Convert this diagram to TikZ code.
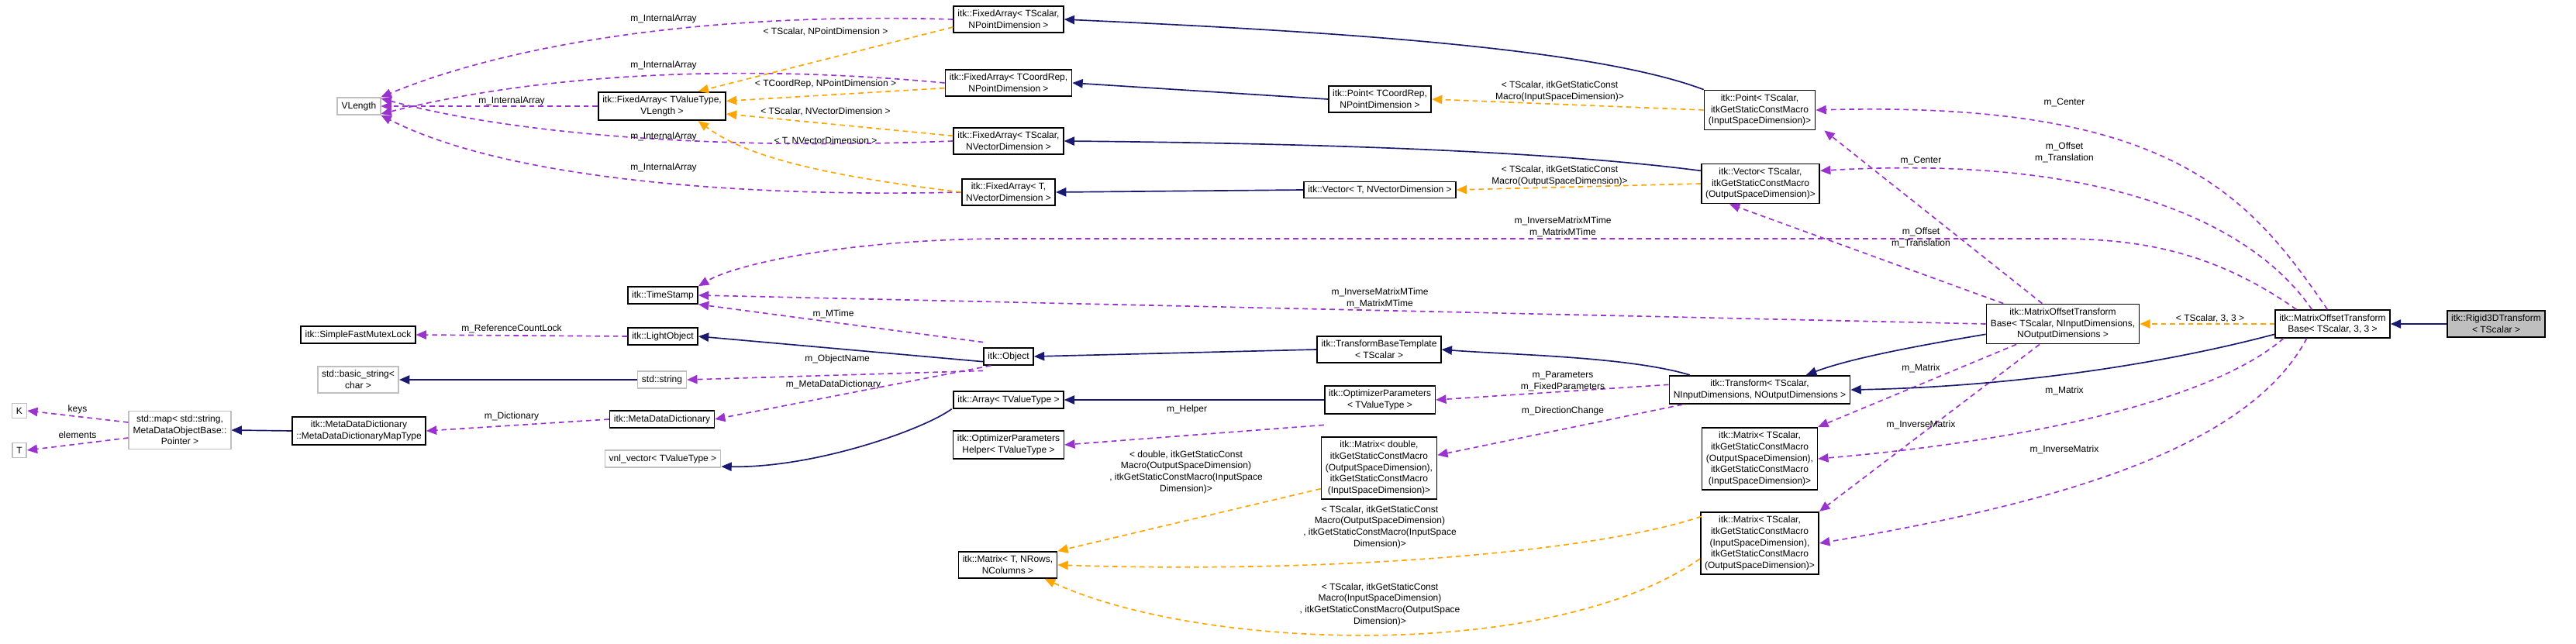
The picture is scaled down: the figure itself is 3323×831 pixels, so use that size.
\documentclass[tikz,border=0pt]{standalone}
\usepackage{fontspec}
\setmainfont{Liberation Sans}
\usetikzlibrary{arrows.meta}
\definecolor{inhblue}{RGB}{25,25,112}
\definecolor{usepurple}{RGB}{154,50,205}
\definecolor{tmplorange}{RGB}{255,165,0}
\definecolor{extgray}{RGB}{191,191,191}
\tikzset{
  cls/.style={draw=black, line width=0.5pt, fill=white, align=center, inner sep=1.6pt, font=\fontsize{3.6}{4.4}\selectfont},
  ext/.style={cls, draw=extgray},
  lbl/.style={align=center, inner sep=0pt, font=\fontsize{3.6}{4.4}\selectfont},
  inherit/.style={-{Triangle[length=4pt,width=3.4pt,fill=inhblue]}, draw=inhblue, line width=0.5pt},
  uses/.style={-{Triangle[length=4pt,width=3.4pt,fill=usepurple]}, draw=usepurple, dash pattern=on 2pt off 1.5pt, line width=0.5pt},
  tmpl/.style={-{Triangle[length=4pt,width=3.4pt,fill=tmplorange]}, draw=tmplorange, dash pattern=on 2pt off 1.5pt, line width=0.5pt}
}
\begin{document}
\begin{tikzpicture}[x=0.3pt, y=-0.3pt]
\useasboundingbox (0,0) rectangle (3323,831);

% classes
\node[ext] (vlen) at (463,137) {VLength};
\node[cls] (faTV) at (854,137) {itk::FixedArray\textless{} TValueType,\\VLength \textgreater};
\node[cls] (faP) at (1301,25) {itk::FixedArray\textless{} TScalar,\\NPointDimension \textgreater};
\node[cls] (faCR) at (1301,107) {itk::FixedArray\textless{} TCoordRep,\\NPointDimension \textgreater};
\node[cls] (faSV) at (1301,182) {itk::FixedArray\textless{} TScalar,\\NVectorDimension \textgreater};
\node[cls] (faT) at (1301,248) {itk::FixedArray\textless{} T,\\NVectorDimension \textgreater};
\node[cls] (pointCR) at (1780,128) {itk::Point\textless{} TCoordRep,\\NPointDimension \textgreater};
\node[cls] (vectorT) at (1780,245) {itk::Vector\textless{} T, NVectorDimension \textgreater};
\node[cls] (pointS) at (2270,142) {itk::Point\textless{} TScalar,\\itkGetStaticConstMacro\\(InputSpaceDimension)\textgreater};
\node[cls] (vectorS) at (2271,237) {itk::Vector\textless{} TScalar,\\itkGetStaticConstMacro\\(OutputSpaceDimension)\textgreater};
\node[cls] (motbN) at (2661,418) {itk::MatrixOffsetTransform\\Base\textless{} TScalar, NInputDimensions,\\NOutputDimensions \textgreater};
\node[cls] (motb33) at (3009,418) {itk::MatrixOffsetTransform\\Base\textless{} TScalar, 3, 3 \textgreater};
\node[cls, fill=extgray] (rigid) at (3220,418) {itk::Rigid3DTransform\\\textless{} TScalar \textgreater};
\node[cls] (transform) at (2270,503) {itk::Transform\textless{} TScalar,\\NInputDimensions, NOutputDimensions \textgreater};
\node[cls] (mat1) at (2270,592) {itk::Matrix\textless{} TScalar,\\itkGetStaticConstMacro\\(OutputSpaceDimension),\\itkGetStaticConstMacro\\(InputSpaceDimension)\textgreater};
\node[cls] (mat2) at (2270,701) {itk::Matrix\textless{} TScalar,\\itkGetStaticConstMacro\\(InputSpaceDimension),\\itkGetStaticConstMacro\\(OutputSpaceDimension)\textgreater};
\node[cls] (tbt) at (1779,451) {itk::TransformBaseTemplate\\\textless{} TScalar \textgreater};
\node[cls] (optP) at (1780,516) {itk::OptimizerParameters\\\textless{} TValueType \textgreater};
\node[cls] (matD) at (1779,604) {itk::Matrix\textless{} double,\\itkGetStaticConstMacro\\(OutputSpaceDimension),\\itkGetStaticConstMacro\\(InputSpaceDimension)\textgreater};
\node[cls] (object) at (1301,460) {itk::Object};
\node[cls] (array) at (1301,516) {itk::Array\textless{} TValueType \textgreater};
\node[cls] (helper) at (1301,574) {itk::OptimizerParameters\\Helper\textless{} TValueType \textgreater};
\node[cls] (matT) at (1300,729) {itk::Matrix\textless{} T, NRows,\\NColumns \textgreater};
\node[cls] (ts) at (855,381) {itk::TimeStamp};
\node[cls] (light) at (855,434) {itk::LightObject};
\node[cls] (mutex) at (462,432) {itk::SimpleFastMutexLock};
\node[ext] (basic) at (462,490) {std::basic\_string\textless\\char \textgreater};
\node[ext] (string) at (854,490) {std::string};
\node[cls] (mdd) at (854,541) {itk::MetaDataDictionary};
\node[cls] (mapT) at (463,556) {itk::MetaDataDictionary\\::MetaDataDictionaryMapType};
\node[ext] (map) at (232,555) {std::map\textless{} std::string,\\MetaDataObjectBase::\\Pointer \textgreater};
\node[ext] (K) at (25,530) {K};
\node[ext] (T) at (25,581) {T};
\node[ext] (vnl) at (855,592) {vnl\_vector\textless{} TValueType \textgreater};

% m_InternalArray members
\draw[uses] (faP.west) .. controls (900,15) and (650,60) .. (vlen.north east);
\draw[uses] (faCR.west) .. controls (950,82) and (700,95) .. ([yshift=-3pt]vlen.east);
\draw[uses] (faTV.west) -- (vlen.east);
\draw[uses] (faSV.west) .. controls (900,195) and (650,170) .. ([yshift=3pt]vlen.east);
\draw[uses] (faT.west) .. controls (950,255) and (650,230) .. (vlen.south east);
\node[lbl] (l1) at (856,24) {m\_InternalArray};
\node[lbl] (l2) at (856,84) {m\_InternalArray};
\node[lbl] (l3) at (660,130) {m\_InternalArray};
\node[lbl] (l4) at (856,176) {m\_InternalArray};
\node[lbl] (l5) at (856,216) {m\_InternalArray};

% FixedArray instantiations
\draw[tmpl] ([yshift=-3pt]faP.west) -- ([xshift=14pt]faTV.north);
\draw[tmpl] ([yshift=-2pt]faCR.west) -- ([yshift=2pt]faTV.east);
\draw[tmpl] ([yshift=2pt]faSV.west) -- ([yshift=-3pt]faTV.east);
\draw[tmpl] (faT.west) .. controls (1050,225) and (960,200) .. ([xshift=14pt]faTV.south);
\node[lbl] (t1) at (1065,41) {\textless{} TScalar, NPointDimension \textgreater};
\node[lbl] (t2) at (1065,108) {\textless{} TCoordRep, NPointDimension \textgreater};
\node[lbl] (t3) at (1065,144) {\textless{} TScalar, NVectorDimension \textgreater};
\node[lbl] (t4) at (1065,182) {\textless{} T, NVectorDimension \textgreater};

% Point / Vector
\draw[inherit] (pointS.north west) .. controls (2050,60) and (1700,40) .. (faP.east);
\draw[inherit] (pointCR.west) -- (faCR.east);
\draw[inherit] ([yshift=5pt]vectorS.west) .. controls (2000,195) and (1700,185) .. (faSV.east);
\draw[inherit] (vectorT.west) -- (faT.east);
\draw[tmpl] (pointS.west) -- (pointCR.east);
\draw[tmpl] (vectorS.west) -- (vectorT.east);
\node[lbl] (t5) at (2012,118) {\textless{} TScalar, itkGetStaticConst\\Macro(InputSpaceDimension)\textgreater};
\node[lbl] (t6) at (2012,227) {\textless{} TScalar, itkGetStaticConst\\Macro(OutputSpaceDimension)\textgreater};

% MatrixOffsetTransformBase members
\draw[uses] ([xshift=-2pt]motb33.north) .. controls (2900,250) and (2800,130) .. (pointS.east);
\draw[uses] ([xshift=-8pt]motb33.north) .. controls (2900,280) and (2700,200) .. ([yshift=5pt]vectorS.east);
\draw[uses] ([xshift=-14pt]motb33.north) .. controls (2850,320) and (2750,308) .. (2650,308) -- (1300,308) .. controls (1100,308) and (950,340) .. (ts.north east);
\draw[uses] ([xshift=-23pt]motbN.north) -- ([xshift=-12pt]vectorS.south);
\draw[uses] ([xshift=-8pt]motbN.north) -- ([xshift=25pt]pointS.south);
\draw[uses] (motbN.west) -- (ts.east);
\draw[uses] ([xshift=-19pt]motb33.south) .. controls (2850,520) and (2600,570) .. (mat1.east);
\draw[uses] ([xshift=-10pt]motb33.south) .. controls (2900,580) and (2650,650) .. (mat2.east);
\draw[uses] ([xshift=-18pt]motbN.south) -- (mat1.north east);
\draw[uses] ([xshift=-9pt]motbN.south) -- (mat2.north east);
\node[lbl] (u1) at (2663,133) {m\_Center};
\node[lbl] (u2) at (2663,197) {m\_Offset\\m\_Translation};
\node[lbl] (u3) at (2016,293) {m\_InverseMatrixMTime\\m\_MatrixMTime};
\node[lbl] (u4) at (2478,208) {m\_Center};
\node[lbl] (u5) at (2478,307) {m\_Offset\\m\_Translation};
\node[lbl] (u6) at (1780,385) {m\_InverseMatrixMTime\\m\_MatrixMTime};
\node[lbl] (u7) at (2663,504) {m\_Matrix};
\node[lbl] (u8) at (2663,580) {m\_InverseMatrix};
\node[lbl] (u9) at (2478,475) {m\_Matrix};
\node[lbl] (u10) at (2478,548) {m\_InverseMatrix};

% transform hierarchy
\draw[inherit] (rigid.west) -- (motb33.east);
\draw[tmpl] (motb33.west) -- (motbN.east);
\node[lbl] (t7) at (2851,411) {\textless{} TScalar, 3, 3 \textgreater};
\draw[inherit] ([yshift=-4pt]motb33.west) .. controls (2750,480) and (2550,500) .. (transform.east);
\draw[inherit] ([yshift=-4pt]motbN.west) .. controls (2450,450) and (2380,465) .. ([xshift=18pt]transform.north);
\draw[inherit] ([xshift=-27pt]transform.north) .. controls (2100,460) and (1950,458) .. (tbt.east);
\draw[uses] ([yshift=2pt]transform.west) -- (optP.east);
\draw[uses] ([xshift=-30pt]transform.south) -- ([yshift=5pt]matD.east);
\node[lbl] (u11) at (2016,492) {m\_Parameters\\m\_FixedParameters};
\node[lbl] (u12) at (2016,530) {m\_DirectionChange};
\draw[inherit] (tbt.west) -- (object.east);
\draw[inherit] (optP.west) -- (array.east);
\draw[uses] ([yshift=-4pt]optP.south west) -- (helper.east);
\node[lbl] (u13) at (1531,528) {m\_Helper};
\draw[inherit] ([xshift=-22pt]array.south) .. controls (1190,555) and (1050,604) .. ([yshift=-3pt]vnl.east);

% Matrix instantiations
\draw[tmpl] ([yshift=-8pt]matD.west) -- (matT.north east);
\draw[tmpl] ([yshift=-10pt]mat1.south west) .. controls (2050,715) and (1700,740) .. (matT.east);
\draw[tmpl] ([yshift=-6pt]mat2.west) .. controls (2000,855) and (1550,840) .. ([xshift=-5pt]matT.south east);
\node[lbl] (t8) at (1530,609) {\textless{} double, itkGetStaticConst\\Macro(OutputSpaceDimension)\\, itkGetStaticConstMacro(InputSpace\\Dimension)\textgreater};
\node[lbl] (t9) at (1780,680) {\textless{} TScalar, itkGetStaticConst\\Macro(OutputSpaceDimension)\\, itkGetStaticConstMacro(InputSpace\\Dimension)\textgreater};
\node[lbl] (t10) at (1780,780) {\textless{} TScalar, itkGetStaticConst\\Macro(InputSpaceDimension)\\, itkGetStaticConstMacro(OutputSpace\\Dimension)\textgreater};

% Object and friends
\draw[uses] ([yshift=2pt]object.north west) -- (ts.south east);
\draw[inherit] ([yshift=-2pt]object.west) -- (light.east);
\draw[uses] ([yshift=-2pt]object.south west) -- (string.east);
\draw[uses] ([xshift=3pt]object.south west) -- (mdd.east);
\node[lbl] (u14) at (1075,405) {m\_MTime};
\node[lbl] (u15) at (1080,463) {m\_ObjectName};
\node[lbl] (u16) at (1075,496) {m\_MetaDataDictionary};
\draw[uses] (light.west) -- (mutex.east);
\node[lbl] (u17) at (660,424) {m\_ReferenceCountLock};
\draw[inherit] (string.west) -- (basic.east);
\draw[uses] (mdd.west) -- (mapT.east);
\node[lbl] (u18) at (660,537) {m\_Dictionary};
\draw[inherit] (mapT.west) -- (map.east);
\draw[uses] ([yshift=3pt]map.west) -- (K.east);
\draw[uses] ([yshift=-3pt]map.west) -- (T.east);
\node[lbl] (u19) at (100,528) {keys};
\node[lbl] (u20) at (100,561) {elements};
\end{tikzpicture}
\end{document}
